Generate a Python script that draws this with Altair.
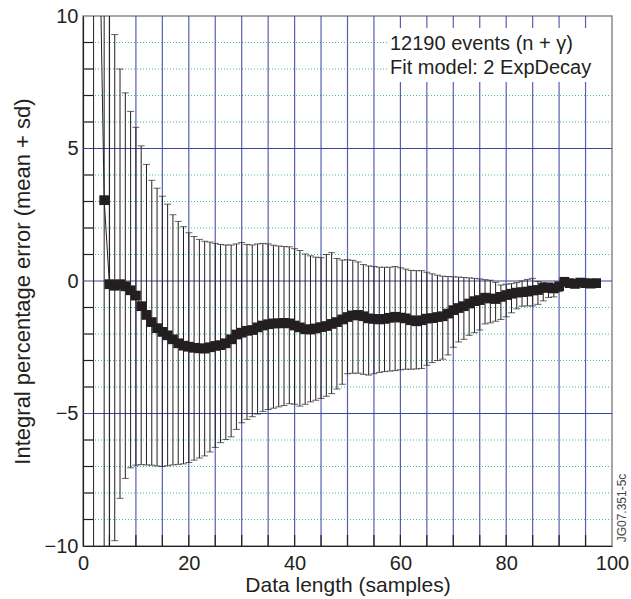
import altair as alt
import pandas as pd

# ---------------- data ----------------
xs = list(range(2, 98))

means = [None, 14.7,
         3.05, -0.12, -0.18, -0.12, -0.20, -0.35, -0.55, -0.95, -1.28, -1.55,   # 4-13
         -1.78, -1.92, -2.05, -2.20, -2.35, -2.44, -2.48, -2.52, -2.54, -2.55,  # 14-23
         -2.50, -2.45, -2.42, -2.35, -2.20, -2.02, -1.95, -1.88, -1.85, -1.75,  # 24-33
         -1.68, -1.63, -1.60, -1.60, -1.58, -1.60, -1.68, -1.75, -1.82, -1.83,  # 34-43
         -1.79, -1.74, -1.70, -1.62, -1.55, -1.45, -1.36, -1.30, -1.28, -1.33,  # 44-53
         -1.41, -1.43, -1.45, -1.43, -1.39, -1.35, -1.38, -1.41, -1.48, -1.52,  # 54-63
         -1.48, -1.42, -1.40, -1.36, -1.33, -1.23, -1.10, -1.02, -0.95, -0.85,  # 64-73
         -0.76, -0.72, -0.63, -0.66, -0.68, -0.60, -0.53, -0.48, -0.44, -0.42,  # 74-83
         -0.40, -0.36, -0.34, -0.26, -0.24, -0.28, -0.20, -0.03, -0.08, -0.11,  # 84-93
         -0.06, -0.08, -0.10, -0.08]                                             # 94-97

uppers = [40.0, None,
          14.0, 12.0, 9.30, 8.00, 7.10, 6.40, 5.80, 5.10, 4.40, 3.80,
          3.50, 3.20, 2.90, 2.50, 2.25, 2.05, 1.82, 1.68, 1.57, 1.50,
          1.47, 1.42, 1.38, 1.36, 1.36, 1.40, 1.45, 1.38, 1.36, 1.40,
          1.42, 1.40, 1.35, 1.32, 1.30, 1.29, 1.22, 1.15, 1.02, 0.95,
          0.90, 0.88, 1.00, 1.07, 0.85, 0.79, 0.80, 0.78, 0.72, 0.62,
          0.57, 0.55, 0.52, 0.52, 0.52, 0.55, 0.50, 0.45, 0.40, 0.39,
          0.39, 0.33, 0.27, 0.22, 0.18, 0.17, 0.16, 0.15, 0.13, 0.12,
          0.10, 0.08, 0.05, 0.03, -0.05, -0.15, -0.12, -0.10, -0.06, 0.00,
          0.06, 0.10, -0.02, -0.06, -0.10, -0.12, -0.10, 0.05, 0.00, 0.00,
          0.03, 0.00, -0.02, 0.00]

lowers = [-40.0, None,
          -14.0, -12.0, -9.80, -8.20, -7.45, -7.05, -6.95, -6.93, -6.94, -6.95,
          -6.98, -7.00, -6.97, -6.94, -6.92, -6.90, -6.85, -6.76, -6.68, -6.60,
          -6.45, -6.28, -6.10, -5.98, -5.88, -5.60, -5.35, -5.22, -5.12, -5.02,
          -4.92, -4.85, -4.80, -4.75, -4.70, -4.63, -4.65, -4.72, -4.65, -4.56,
          -4.50, -4.43, -4.35, -4.25, -4.08, -3.90, -3.50, -3.48, -3.48, -3.52,
          -3.55, -3.50, -3.45, -3.42, -3.40, -3.38, -3.35, -3.33, -3.33, -3.32,
          -3.30, -3.18, -3.08, -3.00, -2.95, -2.79, -2.50, -2.30, -2.20, -2.05,
          -1.95, -1.85, -1.62, -1.58, -1.52, -1.45, -1.35, -1.20, -1.05, -0.95,
          -0.94, -0.94, -0.88, -0.75, -0.62, -0.60, -0.40, -0.12, -0.15, -0.16,
          -0.10, -0.12, -0.14, -0.12]

grid_x = [5, 10, 15, 20, 25, 30, 35, 40, 45, 50, 55, 60, 65, 70, 75, 80, 85, 90, 95]
major_y = [-5, 0, 5]
minor_y = [-9, -8, -7, -6, -4, -3, -2, -1, 1, 2, 3, 4, 6, 7, 8, 9]
left_ticks = [-9, -8, -7, -6, -4, -3, -2, -1, 1, 2, 3, 4, 6, 7, 8, 9]
x_tick_labels = [0, 20, 40, 60, 80, 100]
y_tick_labels = [-10, -5, 0, 5, 10]
legend_lines = ["12190 events (n + \u03b3)", "Fit model: 2 ExpDecay"]
tag_text = ["JG07.351-5c"]

# ---------------- tables ----------------
df = pd.DataFrame({"x": xs, "mean": means, "lo": lowers, "hi": uppers})
df_err = df.dropna(subset=["lo", "hi"])
df_pts = df.dropna(subset=["mean"])

FONT = "Liberation Sans"
INK = "#231f20"
BLUE = "#3a44a2"
GREEN = "#2ab873"

xscale = alt.Scale(domain=[0, 100], nice=False, zero=False)
yscale = alt.Scale(domain=[-10, 10], nice=False, zero=False)
xaxis = alt.Axis(values=x_tick_labels, title="Data length (samples)", grid=False,
                 tickSize=0, labelPadding=7, labelFlush=False, labelOverlap=False,
                 titleY=45, titleBaseline="alphabetic", titleFontSize=21)
yaxis = alt.Axis(values=y_tick_labels, title="Integral percentage error (mean + sd)",
                 grid=False, tickSize=0, labelPadding=5, labelFlush=False,
                 labelOverlap=False, titleX=-54, titleY=265,
                 titleAngle=-90, titleAlign="center", titleBaseline="alphabetic",
                 titleFontSize=22)

def X(field="x"):
    return alt.X(f"{field}:Q", scale=xscale, axis=xaxis)

def Y(field):
    return alt.Y(f"{field}:Q", scale=yscale, axis=yaxis)

minor = alt.Chart(pd.DataFrame({"y": minor_y})).mark_rule(
    color=GREEN, strokeWidth=1, strokeDash=[1, 2], opacity=0.9).encode(y=Y("y"))
major = alt.Chart(pd.DataFrame({"y": major_y})).mark_rule(
    color=BLUE, strokeWidth=1.2).encode(y=Y("y"))
vgrid = alt.Chart(pd.DataFrame({"x": grid_x})).mark_rule(
    color=BLUE, strokeWidth=1.2, opacity=0.85).encode(x=X())
bticks = alt.Chart(pd.DataFrame({"x": grid_x})).mark_rule(
    color=INK, strokeWidth=1.2).encode(x=X(), y=alt.value(530), y2=alt.value(519))
lticks = alt.Chart(pd.DataFrame({"y": left_ticks})).mark_rule(
    color=INK, strokeWidth=1.2).encode(y=Y("y"), x=alt.value(0), x2=alt.value(10))

bars = alt.Chart(df_err).mark_rule(color=INK, strokeWidth=1, clip=True).encode(
    x=X(), y=Y("lo"), y2="hi:Q")
cap_hi = alt.Chart(df_err).mark_tick(color=INK, orient="horizontal", size=7,
                                     thickness=1, clip=True).encode(x=X(), y=Y("hi"))
cap_lo = alt.Chart(df_err).mark_tick(color=INK, orient="horizontal", size=7,
                                     thickness=1, clip=True).encode(x=X(), y=Y("lo"))
line = alt.Chart(df_pts).mark_line(color=INK, strokeWidth=1, clip=True).encode(
    x=X(), y=Y("mean"))
pts = alt.Chart(df_pts).mark_point(shape="square", filled=True, size=95, color=INK,
                                   opacity=1, clip=True).encode(x=X(), y=Y("mean"))

box = alt.Chart(pd.DataFrame({"a": [0]})).mark_rect(color="white").encode(
    x=alt.value(304), x2=alt.value(528), y=alt.value(12), y2=alt.value(66))
leg1 = alt.Chart(pd.DataFrame({"t": [legend_lines[0]]})).mark_text(
    font=FONT, fontSize=20, color=INK, align="left", baseline="alphabetic").encode(
    text="t:N", x=alt.value(307), y=alt.value(34))
leg2 = alt.Chart(pd.DataFrame({"t": [legend_lines[1]]})).mark_text(
    font=FONT, fontSize=20, color=INK, align="left", baseline="alphabetic").encode(
    text="t:N", x=alt.value(307), y=alt.value(58))
tag = alt.Chart(pd.DataFrame({"t": tag_text})).mark_text(
    font=FONT, fontSize=12, color="#444444", angle=270, align="center",
    baseline="middle").encode(text="t:N", x=alt.value(539), y=alt.value(492))

chart = alt.layer(minor, major, vgrid, bticks, lticks, bars, cap_hi, cap_lo, line, pts,
                  box, leg1, leg2, tag).properties(
    width=529, height=530,
    padding={"left": 83, "top": 16, "right": 19, "bottom": 53},
    autosize=alt.AutoSizeParams(type="none"),
    background="white",
).configure_view(stroke="#8a8a8a", strokeWidth=1.5).configure_axis(
    labelFont=FONT, labelFontSize=20, labelColor=INK, titleFont=FONT,
    titleFontWeight="normal", titleColor=INK, domainColor=INK, domainWidth=1.2,
)

chart.save("out.html", embed_options={"renderer": "svg", "actions": False})
